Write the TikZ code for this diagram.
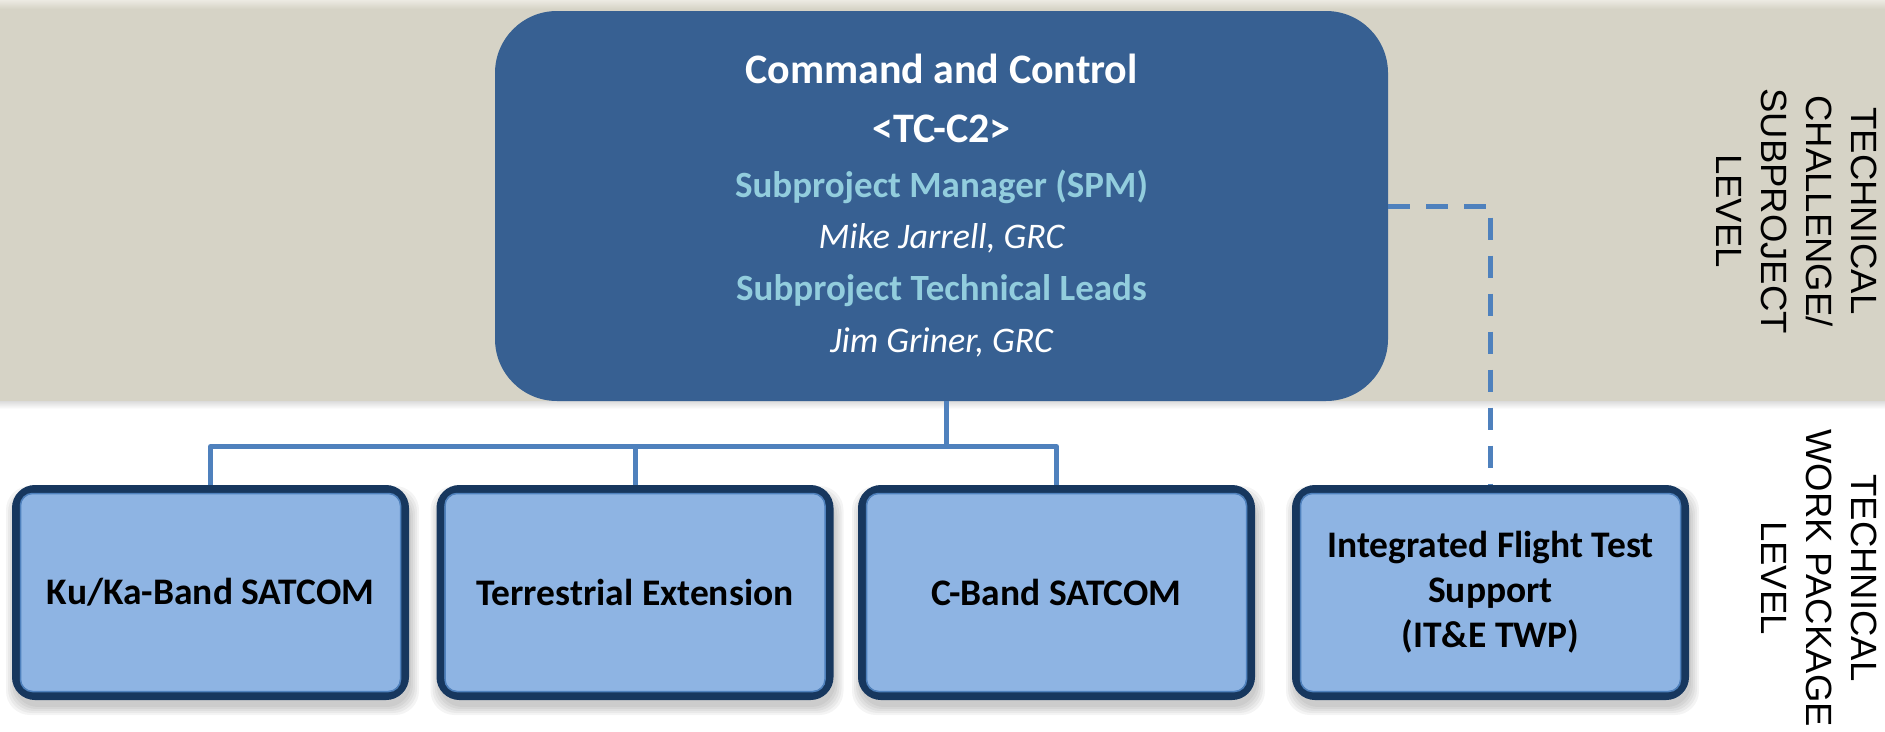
\documentclass[tikz,border=0pt]{standalone}
\usepackage{fontspec}
\setmainfont{Carlito}
\newfontfamily\sidefont{Liberation Sans}
\usetikzlibrary{calc}

\definecolor{bandtan}{RGB}{214,211,198}
\definecolor{bandlight}{RGB}{236,234,226}
\definecolor{c2blue}{RGB}{55,96,146}
\definecolor{rolecyan}{RGB}{146,205,221}
\definecolor{wpblue}{RGB}{142,180,227}
\definecolor{wpnavy}{RGB}{23,55,94}
\definecolor{linkblue}{RGB}{79,129,189}

\pgfdeclarelayer{bg}
\pgfdeclarelayer{shade}
\pgfsetlayers{bg,shade,main}

\begin{document}
\begin{tikzpicture}[x=1pt,y=-1pt,
  topbox/.style={fill=c2blue, rounded corners=62pt, minimum width=893pt,
    minimum height=390pt, inner sep=0pt, outer sep=0pt, align=center,
    text=white, font=\fontsize{42}{51}\selectfont},
  wpbox/.style={draw=wpnavy, line width=8pt, fill=wpblue, rounded corners=19pt,
    minimum width=389pt, minimum height=207pt, inner sep=0pt, outer sep=4pt,
    align=center, font=\fontsize{37.5}{45}\selectfont\bfseries},
  innerline/.style={draw=linkblue, line width=1.5pt, rounded corners=12pt},
  link/.style={draw=linkblue, line width=5pt},
  dashlink/.style={link, dash pattern=on 22pt off 16pt},
  levellabel/.style={rotate=-90, align=center, inner sep=0pt,
    font=\sidefont\fontsize{36.5}{45}\selectfont}
]
\useasboundingbox (0,0) rectangle (1885,731);

% tan band for the subproject level
\begin{pgfonlayer}{bg}
  \fill[bandtan] (0,0) rectangle (1885,401);
  \shade[top color=bandlight, bottom color=bandtan] (0,0) rectangle (1885,9);
  \shade[top color=black!14, bottom color=white] (0,401) rectangle (1885,409);
\end{pgfonlayer}

% subproject box
\node[topbox] (top) at (941.5,206) {%
  {\bfseries Command and Control}\\[8pt]
  {\bfseries <TC-C2>}\\[4pt]
  {\fontsize{37}{51}\selectfont\bfseries\color{rolecyan}Subproject Manager (SPM)}\\
  {\fontsize{36}{51}\selectfont\itshape Mike Jarrell, GRC}\\[1pt]
  {\fontsize{37}{51}\selectfont\bfseries\color{rolecyan}Subproject Technical Leads}\\[1pt]
  {\fontsize{36}{51}\selectfont\itshape Jim Griner, GRC}};

% technical work packages
\node[wpbox] (b1) at (210.5,592.5) {Ku/Ka-Band SATCOM};
\node[wpbox] (b2) at (635,592.5) {Terrestrial Extension};
\node[wpbox] (b3) at (1056.5,592.5) {C-Band SATCOM};
\node[wpbox] (b4) at (1490.5,592.5) {Integrated Flight Test\\ Support\\ (IT\&E TWP)};

\foreach \n in {b1,b2,b3,b4}{
  \draw[innerline] ($(\n.north west)+(8.5,8.5)$) rectangle ($(\n.south east)+(-8.5,-8.5)$);
  \begin{pgfonlayer}{shade}
    \foreach \e in {0,2,4,6,8}{
      \fill[black, opacity=0.045, rounded corners=24pt]
        ($(\n.north west)+({2-\e},{9-\e})$) rectangle ($(\n.south east)+({2+\e},{7+\e})$);
    }
  \end{pgfonlayer}
}

% connectors
\coordinate (j) at (946,446.5);
\draw[link] (top.south -| j) -- (j);
\draw[link, line join=round] (b1.north) |- (j) -| (b3.north);
\draw[link] (b2.north) -- (b2.north |- j);
\draw[dashlink] (top.east) -| (b4.north);

% level labels
\node[levellabel] (lvl1) at (1797,211) {TECHNICAL\\ CHALLENGE/\\ SUBPROJECT\\ LEVEL};
\node[levellabel] (lvl2) at (1819,578) {TECHNICAL\\ WORK PACKAGE\\ LEVEL};
\end{tikzpicture}
\end{document}
